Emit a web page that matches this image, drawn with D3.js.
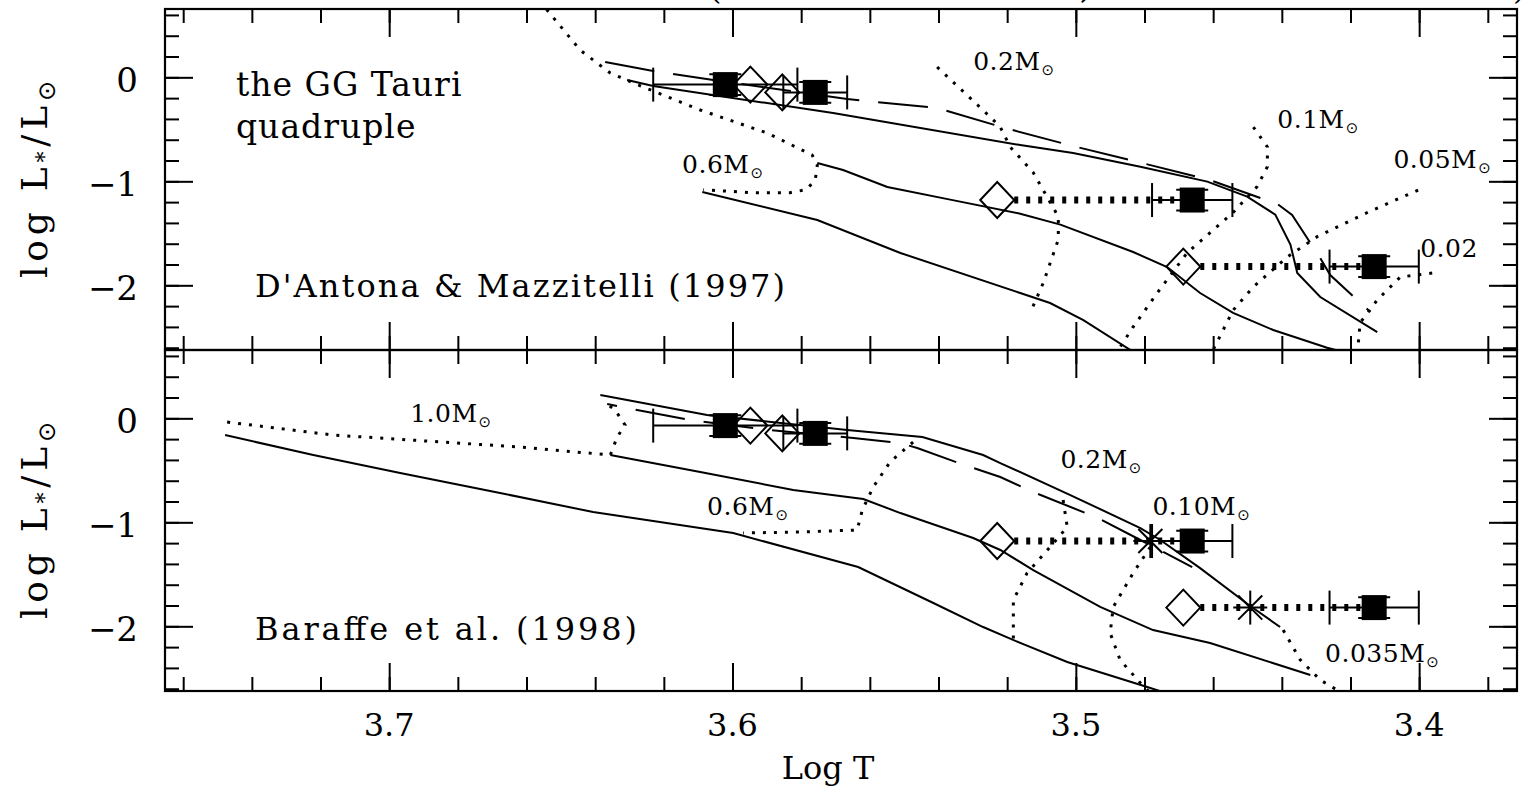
<!DOCTYPE html>
<html>
<head>
<meta charset="utf-8">
<script src="https://cdn.jsdelivr.net/npm/d3@7"></script>
<style>
body { margin: 0; background: #fff; }
svg { display: block; }
text { font-family: "DejaVu Serif", serif; fill: #000; }
</style>
</head>
<body>
<svg id="chart" width="1522" height="791"></svg>
<script>
// ---- tick values / labels
var xMajor = [3.7, 3.6, 3.5, 3.4];
var xMinor = d3.range(338, 377, 2).map(v => v / 100);
var yMajor = [0, -1, -2];
var yMinor = d3.range(-26, 7, 2).map(v => v / 10);
var xTickLabels = ["3.7", "3.6", "3.5", "3.4"];
var yTickLabels = ["0", "\u22121", "\u22122"];

// ---- GG Tau components (squares), model predictions (diamonds)
var obsLogT = [3.6021, 3.5759, 3.4661, 3.4131];
var obsLogL = [-0.07, -0.145, -1.18, -1.82];
var obsErrT = [0.021, 0.0093, 0.0117, 0.013];
var obsErrL = [0.1, 0.1, 0.1, 0.1];
var predLogT = [3.5948, 3.5855, 3.5229, 3.4687];
var bcStarT = [3.4783, 3.4492];
var bcStarL = [-1.18, -1.82];

// ---- D'Antona & Mazzitelli (1997): isochrones (solid/dashed), tracks (dotted)
var dmDashed = [[3.6371,0.147],[3.6231,0.061],[3.6056,-0.026],[3.5666,-0.209],[3.5404,-0.295],[3.5206,-0.488],[3.5008,-0.661],[3.4807,-0.824],[3.4609,-0.988],[3.4413,-1.218],[3.437,-1.324],[3.4288,-1.738],[3.4259,-1.901],[3.4142,-2.257]];
var dmIso1 = [[3.6307,-0.026],[3.6231,-0.084],[3.5707,-0.343],[3.5162,-0.651],[3.5008,-0.728],[3.4812,-0.859],[3.4617,-1.003],[3.4501,-1.147],[3.4419,-1.32],[3.4375,-1.608],[3.4355,-1.882],[3.4288,-2.113],[3.4122,-2.45]];
var dmIso2 = [[3.5753,-0.824],[3.5678,-0.891],[3.5549,-1.054],[3.5366,-1.176],[3.5162,-1.311],[3.5045,-1.416],[3.4833,-1.68],[3.4734,-1.824],[3.4638,-2.074],[3.4542,-2.266],[3.4425,-2.43],[3.4268,-2.6],[3.42,-2.66]];
var dmIso3 = [[3.6088,-1.103],[3.5753,-1.372],[3.5511,-1.689],[3.5162,-2.074],[3.5075,-2.17],[3.4978,-2.334],[3.4842,-2.62],[3.482,-2.66]];
var dm06 = [[3.656,0.74],[3.654,0.647],[3.6444,0.2625],[3.6356,0.041],[3.626,-0.093],[3.6094,-0.314],[3.5899,-0.536],[3.5768,-0.747],[3.5753,-0.843],[3.5759,-0.988],[3.5785,-1.08],[3.5832,-1.109],[3.5948,-1.109],[3.6085,-1.08]];
var dm02 = [[3.5404,0.099],[3.5249,-0.382],[3.522,-0.478],[3.5191,-0.67],[3.5124,-0.916],[3.5051,-1.34],[3.5051,-1.56],[3.5095,-1.978],[3.5133,-2.266]];
var dm01 = [[3.4483,-0.478],[3.4442,-0.67],[3.4442,-0.859],[3.4472,-1.051],[3.4542,-1.3],[3.4676,-1.689],[3.4763,-2.074],[3.4833,-2.4],[3.4876,-2.62],[3.489,-2.66]];
var dm005 = [[3.4003,-1.084],[3.4151,-1.3],[3.4297,-1.532],[3.4384,-1.728],[3.4483,-2.016],[3.4542,-2.24],[3.46,-2.62],[3.4605,-2.66]];
var dm002 = [[3.3962,-1.882],[3.4055,-1.92],[3.4122,-2.141],[3.4172,-2.36],[3.4177,-2.55],[3.4177,-2.66]];
var dmLabelText = ["0.2M", "0.6M", "0.1M", "0.05M", "0.02"];
var dmLabelT = [3.5299, 3.6147, 3.4413, 3.4075, 3.3997];
var dmLabelL = [0.07, -0.92, -0.4875, -0.872, -1.728];
var dmLabelSun = [true, true, true, true, false];

// ---- Baraffe et al. (1998)
var bcDashed = [[3.6365,0.137],[3.6278,0.08],[3.6123,-0.016],[3.589,-0.113],[3.5648,-0.189],[3.5511,-0.2375],[3.5462,-0.286],[3.5316,-0.459],[3.522,-0.564],[3.5124,-0.709],[3.4935,-0.959],[3.4812,-1.17],[3.4661,-1.43]];
var bcIsoA = [[3.7478,-0.161],[3.7221,-0.353],[3.6968,-0.526],[3.6677,-0.718],[3.6406,-0.901],[3.5998,-1.103],[3.5634,-1.43],[3.5415,-1.776],[3.527,-2.007],[3.5162,-2.16],[3.5025,-2.343],[3.4792,-2.583],[3.472,-2.66]];
var bcIsoB = [[3.6356,-0.353],[3.6094,-0.516],[3.5823,-0.689],[3.5619,-0.776],[3.5511,-0.911],[3.5299,-1.151],[3.522,-1.266],[3.5124,-1.459],[3.4929,-1.814],[3.4775,-2.036],[3.4609,-2.16],[3.4317,-2.468]];
var bcIsoC = [[3.6385,0.224],[3.6074,0.032],[3.5666,-0.113],[3.5447,-0.18],[3.527,-0.353],[3.522,-0.43],[3.5016,-0.738],[3.4812,-1.055],[3.4754,-1.17],[3.4638,-1.44],[3.4492,-1.805],[3.4405,-2.007]];
var bc10 = [[3.7472,-0.036],[3.7163,-0.161],[3.6618,-0.276],[3.6356,-0.353],[3.6336,-0.18],[3.6313,-0.064],[3.6342,0.08],[3.6371,0.148]];
var bc06 = [[3.5474,-0.228],[3.5541,-0.42],[3.559,-0.66],[3.5622,-0.882],[3.5637,-1.074],[3.5803,-1.093],[3.5969,-1.103]];
var bc02 = [[3.5037,-0.786],[3.5025,-1.045],[3.5075,-1.2375],[3.5142,-1.488],[3.5182,-1.747],[3.5182,-2.132]];
var bc010 = [[3.4783,-1.2375],[3.4833,-1.488],[3.4891,-1.814],[3.49,-2.065],[3.4871,-2.324],[3.4812,-2.545],[3.4777,-2.66]];
var bc0035 = [[3.4396,-2.036],[3.4346,-2.324],[3.4288,-2.516],[3.4215,-2.66]];
var bcLabelText = ["1.0M", "0.6M", "0.2M", "0.10M", "0.035M"];
var bcLabelT = [3.6939, 3.6074, 3.5045, 3.4777, 3.4274];
var bcLabelL = [-0.036, -0.93, -0.478, -0.93, -2.343];
var bcLabelSun = [true, true, true, true, true];

var W = 1522, left = 165, right = 1517, panelH = 341;
var svg = d3.select("#chart");
svg.append("rect").attr("width", W).attr("height", 791).attr("fill", "#fff");

var x = d3.scaleLinear().domain([3.7653, 3.3715]).range([left, right]);
var y = d3.scaleLinear().domain([-2.622, 0.657]).range([panelH, 0]);
var line = d3.line().x(d => x(d[0])).y(d => y(d[1]));

function addTicks(g, axisFn, scale, vals, size, tr) {
  g.append("g").attr("transform", tr)
    .call(axisFn(scale).tickValues(vals).tickSize(-size).tickSizeOuter(0).tickFormat(""))
    .call(a => a.select(".domain").remove())
    .selectAll("line").attr("stroke", "#000").attr("stroke-width", 2);
}

function drawPanel(top, cfg) {
  var g = svg.append("g").attr("transform", "translate(0," + top + ")");
  var clipId = "clip" + top;
  g.append("clipPath").attr("id", clipId).append("rect")
    .attr("x", left).attr("y", 0).attr("width", right - left).attr("height", panelH);
  var c = g.append("g").attr("clip-path", "url(#" + clipId + ")");

  cfg.solid.forEach(s => {
    c.append("path").attr("d", line(s)).attr("fill", "none").attr("stroke", "#000").attr("stroke-width", 2);
  });
  c.append("path").attr("d", line(cfg.dashed)).attr("fill", "none").attr("stroke", "#000")
    .attr("stroke-width", 2).attr("stroke-dasharray", "50 19").attr("stroke-dashoffset", cfg.dashOffset);
  cfg.dotted.forEach(s => {
    c.append("path").attr("d", line(s)).attr("fill", "none").attr("stroke", "#000")
      .attr("stroke-width", 3).attr("stroke-dasharray", "3 8");
  });

  // thick dotted connectors, diamond -> square
  [2, 3].forEach(i => {
    c.append("line").attr("x1", x(predLogT[i]) + 17).attr("x2", x(obsLogT[i]))
      .attr("y1", y(obsLogL[i])).attr("y2", y(obsLogL[i]))
      .attr("stroke", "#000").attr("stroke-width", 7).attr("stroke-dasharray", "4 8");
  });

  // error bars
  obsLogT.forEach((t, i) => {
    var cy = y(obsLogL[i]), x0 = x(t + obsErrT[i]), x1 = x(t - obsErrT[i]);
    var e = c.append("g").attr("stroke", "#000").attr("stroke-width", 2);
    e.append("line").attr("x1", x0).attr("x2", x1).attr("y1", cy).attr("y2", cy);
    e.append("line").attr("x1", x0).attr("x2", x0).attr("y1", cy - 17).attr("y2", cy + 17);
    e.append("line").attr("x1", x1).attr("x2", x1).attr("y1", cy - 17).attr("y2", cy + 17);
    var ya = y(obsLogL[i] + obsErrL[i]), yb = y(obsLogL[i] - obsErrL[i]), cx = x(t);
    e.append("line").attr("x1", cx).attr("x2", cx).attr("y1", ya).attr("y2", yb);
    e.append("line").attr("x1", cx - 16).attr("x2", cx + 16).attr("y1", ya).attr("y2", ya);
    e.append("line").attr("x1", cx - 16).attr("x2", cx + 16).attr("y1", yb).attr("y2", yb);
  });
  c.selectAll("rect.obs").data(obsLogT).join("rect").attr("class", "obs")
    .attr("x", d => x(d) - 12.5).attr("y", (d, i) => y(obsLogL[i]) - 12.5)
    .attr("width", 25).attr("height", 25).attr("fill", "#000");
  c.selectAll("path.pred").data(predLogT).join("path").attr("class", "pred")
    .attr("d", (d, i) => {
      var px = x(d), py = y(obsLogL[i]);
      return "M" + (px - 17) + "," + py + "L" + px + "," + (py - 18) + "L" + (px + 17) + "," + py + "L" + px + "," + (py + 18) + "Z";
    })
    .attr("fill", "none").attr("stroke", "#000").attr("stroke-width", 2);
  if (cfg.stars) {
    bcStarT.forEach((t, i) => {
      var px = x(t), py = y(bcStarL[i]);
      [0, 45, 90, 135].forEach(a => {
        var r = a * Math.PI / 180, dx = 17 * Math.cos(r), dy = 17 * Math.sin(r);
        c.append("line").attr("x1", px - dx).attr("x2", px + dx).attr("y1", py - dy).attr("y2", py + dy)
          .attr("stroke", "#000").attr("stroke-width", 2);
      });
    });
  }

  // mass labels
  cfg.labelText.forEach((t, i) => {
    var tx = g.append("text").attr("x", x(cfg.labelT[i])).attr("y", y(cfg.labelL[i]))
      .attr("font-size", 25).attr("letter-spacing", 0.5).text(t);
    if (cfg.labelSun[i]) {
      tx.append("tspan").attr("font-family", "DejaVu Sans").attr("font-size", 15)
        .attr("dx", 1).attr("dy", 5).text("\u2299");
    }
  });
  g.append("text").attr("x", left + 90).attr("y", y(cfg.nameL)).attr("font-size", 32)
    .attr("textLength", cfg.nameLen).attr("lengthAdjust", "spacing").text(cfg.name);

  // axes: ticks inward on all four sides
  addTicks(g, d3.axisBottom, x, xMinor, 14, "translate(0," + panelH + ")");
  addTicks(g, d3.axisBottom, x, xMajor, 28, "translate(0," + panelH + ")");
  addTicks(g, d3.axisTop, x, xMinor, 14, "translate(0,0)");
  addTicks(g, d3.axisTop, x, xMajor, 28, "translate(0,0)");
  addTicks(g, d3.axisLeft, y, yMinor, 14, "translate(" + left + ",0)");
  addTicks(g, d3.axisLeft, y, yMajor, 28, "translate(" + left + ",0)");
  addTicks(g, d3.axisRight, y, yMinor, 14, "translate(" + right + ",0)");
  addTicks(g, d3.axisRight, y, yMajor, 28, "translate(" + right + ",0)");
  g.append("rect").attr("x", left).attr("y", 0).attr("width", right - left).attr("height", panelH)
    .attr("fill", "none").attr("stroke", "#000").attr("stroke-width", 2.2);

  yMajor.forEach((v, i) => {
    g.append("text").attr("x", 138).attr("y", y(v) + 14.7).attr("text-anchor", "end")
      .attr("font-size", 34).text(yTickLabels[i]);
  });

  var yl = g.append("text").attr("transform", "translate(47," + (panelH / 2) + ") rotate(-90)")
    .attr("text-anchor", "middle").attr("font-size", 36)
    .attr("textLength", 197).attr("lengthAdjust", "spacing");
  yl.append("tspan").text("log L");
  yl.append("tspan").attr("font-size", 22).attr("dy", 5).text("*");
  yl.append("tspan").attr("dy", -5).text("/L");
  yl.append("tspan").attr("font-family", "DejaVu Sans").attr("font-size", 24).attr("dy", 8).text("\u2299");
  return g;
}

var gTop = drawPanel(9, {
  solid: [dmIso1, dmIso2, dmIso3], dashed: dmDashed, dashOffset: 0,
  dotted: [dm06, dm02, dm01, dm005, dm002],
  labelText: dmLabelText, labelT: dmLabelT, labelL: dmLabelL, labelSun: dmLabelSun,
  name: "D'Antona & Mazzitelli (1997)", nameLen: 530, nameL: -2.113, stars: false
});
gTop.append("text").attr("x", 236).attr("y", y(-0.18)).attr("font-size", 33)
  .attr("letter-spacing", 1).text("the GG Tauri");
gTop.append("text").attr("x", 236).attr("y", y(-0.585)).attr("font-size", 33)
  .attr("letter-spacing", 1).text("quadruple");

drawPanel(350, {
  solid: [bcIsoA, bcIsoB, bcIsoC], dashed: bcDashed, dashOffset: 40,
  dotted: [bc10, bc06, bc02, bc010, bc0035],
  labelText: bcLabelText, labelT: bcLabelT, labelL: bcLabelL, labelSun: bcLabelSun,
  name: "Baraffe et al. (1998)", nameLen: 382, nameL: -2.132, stars: true
});

// x tick labels and title under the lower panel
xMajor.forEach((v, i) => {
  svg.append("text").attr("x", x(v)).attr("y", 736).attr("text-anchor", "middle")
    .attr("font-size", 32).text(xTickLabels[i]);
});
svg.append("text").attr("x", 828).attr("y", 779).attr("text-anchor", "middle")
  .attr("font-size", 32).text("Log T");

// fragments of the cut-off line above the plot (also cut off in the original)
[["(", 709], [",", 1080], [")", 1513]].forEach(f => {
  svg.append("text").attr("x", f[1]).attr("y", -1).attr("font-size", 32).text(f[0]);
});
</script>
</body>
</html>
